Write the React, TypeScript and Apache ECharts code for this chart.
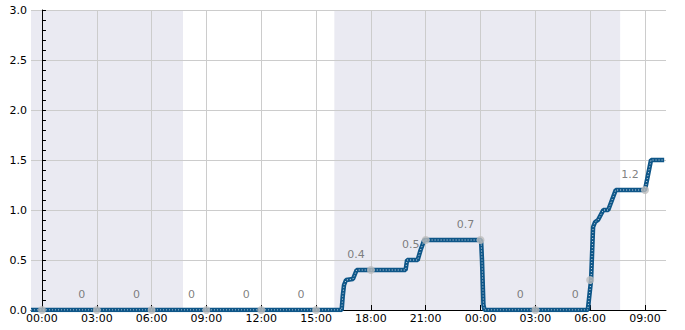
import React, { useEffect, useRef } from "react";
import * as echarts from "echarts";

// hours since 00:00 of day 1
const X_MIN = -0.6;
const X_MAX = 34.15;
const tickHours = [0, 3, 6, 9, 12, 15, 18, 21, 24, 27, 30, 33];

const lineHours = [
  -0.6, 16.4, 16.46, 16.53, 16.64, 17.02, 17.22, 19.9, 19.98, 20.56, 20.72, 20.92,
  24.03, 24.08, 24.16, 24.22, 29.87, 30.05, 30.16, 30.27, 30.43, 30.72, 30.99, 31.4,
  33.0, 33.33, 34.05,
];
const lineValues = [
  0, 0, 0.14, 0.25, 0.3, 0.31, 0.4, 0.4, 0.5, 0.5, 0.6, 0.7,
  0.7, 0.5, 0.05, 0, 0, 0.3, 0.83, 0.88, 0.9, 1.0, 1.0, 1.2,
  1.2, 1.5, 1.5,
];

const dotHours = [0, 3, 6, 9, 12, 15, 18, 21, 24, 27, 30, 33];
const dotValues = [0, 0, 0, 0, 0, 0, 0.4, 0.7, 0.7, 0, 0.3, 1.2];

const labelHours = [3, 6, 9, 12, 15, 18, 21, 24, 27, 30, 33];
const labelValues = [0, 0, 0, 0, 0, 0.4, 0.5, 0.7, 0, 0, 1.2];

const shadeStarts = [-0.6, 16.0];
const shadeEnds = [7.72, 31.64];

const fmtHour = (h: number) => {
  const hh = ((Math.round(h) % 24) + 24) % 24;
  return (hh < 10 ? "0" : "") + hh + ":00";
};

export default function App() {
  const ref = useRef<HTMLDivElement>(null);
  useEffect(() => {
    document.body.style.margin = "0";
    const chart = echarts.init(ref.current!, undefined, { renderer: "svg" });
    const font = "DejaVu Sans";
    const lineData = lineHours.map((h, i) => [h, lineValues[i]]);
    chart.setOption({
      animation: false,
      grid: { left: 31, top: 10, right: 19, bottom: 20, containLabel: false },
      xAxis: {
        type: "value",
        min: X_MIN,
        max: X_MAX,
        z: 1,
        axisLine: { show: true, onZero: false, lineStyle: { color: "#000", width: 1 } },
        axisTick: { show: true, inside: true, length: 5, customValues: tickHours, lineStyle: { color: "#000" } },
        axisLabel: {
          customValues: tickHours,
          formatter: (v: number) => fmtHour(v),
          color: "#000",
          fontFamily: font,
          fontSize: 11,
          margin: 3,
        },
        splitLine: { show: false },
      },
      yAxis: {
        type: "value",
        min: 0,
        max: 3,
        interval: 0.5,
        z: 1,
        axisLine: { show: true, lineStyle: { color: "#000", width: 1 } },
        axisTick: { show: true, inside: true, length: 4, lineStyle: { color: "#000" } },
        minorTick: { show: true, splitNumber: 5, length: 4, lineStyle: { color: "#000" } },
        axisLabel: {
          formatter: (v: number) => v.toFixed(1),
          color: "#000",
          fontFamily: font,
          fontSize: 11,
          margin: 4,
        },
        splitLine: { show: true, lineStyle: { color: "#cccccc", width: 1 } },
      },
      series: [
        {
          type: "line",
          data: lineData,
          showSymbol: false,
          silent: true,
          lineStyle: { opacity: 0 },
          z: 0,
          markArea: {
            z: 0,
            silent: true,
            itemStyle: { color: "#eaeaf2" },
            data: shadeStarts.map((s, i) => [{ xAxis: s }, { xAxis: shadeEnds[i] }]),
          },
          markLine: {
            z: 1,
            silent: true,
            symbol: "none",
            label: { show: false },
            lineStyle: { color: "#cccccc", type: "solid", width: 1 },
            emphasis: { disabled: true },
            data: tickHours.map((h) => ({ xAxis: h })),
          },
        },
        {
          type: "line",
          data: lineData,
          showSymbol: false,
          z: 3,
          lineStyle: { color: "#0e5688", width: 4.5 },
        },
        {
          type: "line",
          data: lineData,
          showSymbol: false,
          z: 4,
          lineStyle: { color: "#d5dfe8", width: 1, type: [1, 2] },
        },
        {
          type: "scatter",
          data: dotHours.map((h, i) => [h, dotValues[i]]),
          symbolSize: 8,
          z: 5,
          itemStyle: { color: "#bdbdbd" },
        },
        {
          type: "scatter",
          data: labelHours.map((h, i) => [h, labelValues[i]]),
          symbolSize: 1,
          z: 6,
          itemStyle: { color: "rgba(0,0,0,0)" },
          label: {
            show: true,
            position: "top",
            offset: [-15, -5],
            formatter: (p: any) => String(p.value[1]),
            color: "#606060",
            fontFamily: font,
            fontSize: 11,
          },
        },
      ],
    });
    return () => chart.dispose();
  }, []);
  return <div ref={ref} style={{ width: 685, height: 330 }} />;
}
